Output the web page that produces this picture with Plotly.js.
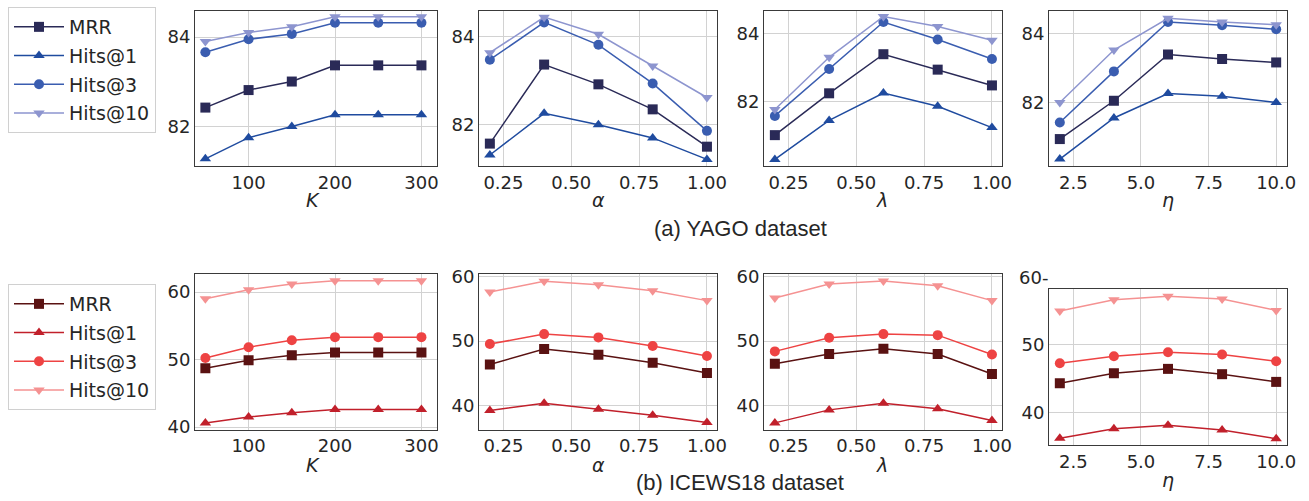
<!DOCTYPE html>
<html><head><meta charset="utf-8">
<script src="https://cdn.plot.ly/plotly-3.0.1.min.js"></script>
<style>body{margin:0;background:#fff}#c{width:1309px;height:501px}</style>
</head><body><div id="c"></div>
<script>
// ---------- data ----------
const seriesNames = ["MRR", "Hits@1", "Hits@3", "Hits@10"];
const K = [50, 100, 150, 200, 250, 300];
const alpha = [0.2, 0.4, 0.6, 0.8, 1.0];
const lambda = [0.2, 0.4, 0.6, 0.8, 1.0];
const eta = [2, 4, 6, 8, 10];

// YAGO
const yagoK_MRR = [82.43, 82.82, 83.01, 83.37, 83.37, 83.37];
const yagoK_H1  = [81.29, 81.76, 82.01, 82.27, 82.27, 82.27];
const yagoK_H3  = [83.66, 83.95, 84.07, 84.32, 84.32, 84.32];
const yagoK_H10 = [83.90, 84.10, 84.23, 84.45, 84.45, 84.45];

const yagoA_MRR = [81.57, 83.37, 82.92, 82.35, 81.50];
const yagoA_H1  = [81.31, 82.26, 82.00, 81.70, 81.21];
const yagoA_H3  = [83.48, 84.33, 83.82, 82.94, 81.86];
const yagoA_H10 = [83.64, 84.45, 84.06, 83.34, 82.62];

const yagoL_MRR = [81.03, 82.25, 83.39, 82.94, 82.48];
const yagoL_H1  = [80.32, 81.46, 82.26, 81.87, 81.25];
const yagoL_H3  = [81.59, 82.96, 84.33, 83.82, 83.25];
const yagoL_H10 = [81.78, 83.30, 84.49, 84.20, 83.80];

const yagoE_MRR = [80.94, 82.05, 83.39, 83.26, 83.16];
const yagoE_H1  = [80.36, 81.55, 82.26, 82.18, 82.00];
const yagoE_H3  = [81.42, 82.90, 84.33, 84.24, 84.12];
const yagoE_H10 = [82.00, 83.52, 84.44, 84.33, 84.25];

// ICEWS18
const iceK_MRR = [48.71, 49.90, 50.65, 51.04, 51.04, 51.04];
const iceK_H1  = [40.60, 41.49, 42.13, 42.63, 42.63, 42.63];
const iceK_H3  = [50.25, 51.84, 52.88, 53.33, 53.33, 53.33];
const iceK_H10 = [59.00, 60.35, 61.19, 61.69, 61.69, 61.69];

const iceA_MRR = [46.40, 48.77, 47.89, 46.66, 45.06];
const iceA_H1  = [39.28, 40.41, 39.49, 38.56, 37.43];
const iceA_H3  = [49.54, 51.08, 50.57, 49.23, 47.69];
const iceA_H10 = [57.58, 59.23, 58.71, 57.79, 56.25];

const iceL_MRR = [46.50, 48.00, 48.82, 48.00, 44.91];
const iceL_H1  = [37.37, 39.38, 40.41, 39.54, 37.73];
const iceL_H3  = [48.41, 50.51, 51.08, 50.92, 47.94];
const iceL_H10 = [56.66, 58.82, 59.28, 58.56, 56.25];

const iceE_MRR = [44.31, 45.78, 46.42, 45.64, 44.51];
const iceE_H1  = [36.23, 37.65, 38.14, 37.45, 36.18];
const iceE_H3  = [47.25, 48.28, 48.87, 48.53, 47.55];
const iceE_H10 = [54.90, 56.57, 57.06, 56.67, 55.00];

const xTitleTexts = ["K", "α", "λ", "η"];
const captions = ["(a) YAGO dataset", "(b) ICEWS18 dataset"];

// ---------- styling ----------
const W = 1309, H = 501;
const blueColors = ["#2a2a57", "#1f4b9f", "#3a5db0", "#8d95cf"];
const redColors  = ["#5a1212", "#c1202b", "#ee4343", "#f59292"];
const symbols = ["square", "triangle-up", "circle", "triangle-down"];
const FONT = "DejaVu Sans, sans-serif";
const TXT = "#262626";

const panels = [
  {x: K, ys: [yagoK_MRR, yagoK_H1, yagoK_H3, yagoK_H10], colors: blueColors, legend: "legend"},
  {x: alpha, ys: [yagoA_MRR, yagoA_H1, yagoA_H3, yagoA_H10], colors: blueColors},
  {x: lambda, ys: [yagoL_MRR, yagoL_H1, yagoL_H3, yagoL_H10], colors: blueColors},
  {x: eta, ys: [yagoE_MRR, yagoE_H1, yagoE_H3, yagoE_H10], colors: blueColors},
  {x: K, ys: [iceK_MRR, iceK_H1, iceK_H3, iceK_H10], colors: redColors, legend: "legend2"},
  {x: alpha, ys: [iceA_MRR, iceA_H1, iceA_H3, iceA_H10], colors: redColors},
  {x: lambda, ys: [iceL_MRR, iceL_H1, iceL_H3, iceL_H10], colors: redColors},
  {x: eta, ys: [iceE_MRR, iceE_H1, iceE_H3, iceE_H10], colors: redColors},
];

const xPix = [[195, 437], [479, 717], [764, 1002], [1049, 1287]];
const yPix = [[11, 166], [11, 166], [11, 166], [11, 166],
              [274, 429.5], [274, 429.5], [274, 429.5], [289, 445]];
const xRanges = [[38, 318], [0.16, 1.037], [0.16, 1.037], [1.6, 10.4]];
const yRanges = [[81.13, 84.58], [81.06, 84.59], [80.13, 84.65], [80.16, 84.65],
                 [39.65, 62.68], [36.35, 60.36], [36.35, 60.36], [35.25, 58.14]];
const xTickVals = [[100, 200, 300], [0.25, 0.5, 0.75, 1.0], [0.25, 0.5, 0.75, 1.0], [2.5, 5, 7.5, 10]];
const xTickDec = [0, 2, 2, 1];
const xTitleX = [313, 598, 882, 1168];
const xTitleY = [200, 200, 200, 200, 465, 465, 465, 480];

const legendCommon = {xanchor: "left", yanchor: "top",
  bordercolor: "#d0d0d0", borderwidth: 1, bgcolor: "#fff",
  font: {family: FONT, size: 19, color: TXT}, tracegroupgap: 1, itemwidth: 50};

const data = [];
const layout = {
  width: W, height: H, margin: {l: 0, r: 0, t: 0, b: 0},
  paper_bgcolor: "#fff", plot_bgcolor: "#fff",
  font: {family: FONT, size: 18, color: TXT},
  showlegend: true,
  legend: Object.assign({x: 8 / W, y: 1 - 7 / H}, legendCommon),
  legend2: Object.assign({x: 8 / W, y: 1 - 284 / H}, legendCommon),
  annotations: [
    {text: captions[0], x: 741 / W, y: 1 - 228 / H, xref: "paper", yref: "paper",
     showarrow: false, xanchor: "center", yanchor: "middle",
     font: {family: "Liberation Sans, Arial, sans-serif", size: 22, color: TXT}},
    {text: captions[1], x: 739.5 / W, y: 1 - 482 / H, xref: "paper", yref: "paper",
     showarrow: false, xanchor: "center", yanchor: "middle",
     font: {family: "Liberation Sans, Arial, sans-serif", size: 22, color: TXT}},
  ],
};

panels.forEach((p, i) => {
  const col = i % 4;
  const ax = i === 0 ? "" : String(i + 1);
  p.ys.forEach((y, s) => {
    data.push({
      type: "scatter", mode: "lines+markers",
      x: p.x, y: y, name: seriesNames[s],
      xaxis: "x" + ax, yaxis: "y" + ax,
      line: {color: p.colors[s], width: 1.5},
      marker: {symbol: symbols[s], color: p.colors[s], size: 10, line: {width: 0}},
      showlegend: !!p.legend,
      legend: p.legend || "legend",
      legendgroup: "g" + i + "_" + s,
    });
  });
  const xd = [xPix[col][0] / W, xPix[col][1] / W];
  const yd = [1 - yPix[i][1] / H, 1 - yPix[i][0] / H];
  const common = {showline: true, mirror: true, linecolor: "#3a3a3a", linewidth: 1,
                  showgrid: true, gridcolor: "#d2d2d2", gridwidth: 1, zeroline: false,
                  ticks: "", tickfont: {family: FONT, size: 18, color: TXT}};
  layout["xaxis" + ax] = Object.assign({}, common, {
    domain: xd, range: xRanges[col], anchor: "y" + ax,
    tickmode: "array", tickvals: xTickVals[col],
    ticktext: xTickVals[col].map(v => v.toFixed(xTickDec[col])),
  });
  const yt = i < 4 ? [82, 84] : [40, 50, 60];
  layout["yaxis" + ax] = Object.assign({}, common, {
    domain: yd, range: yRanges[i], anchor: "x" + ax,
    tickmode: "array", tickvals: yt, ticktext: yt.map(String),
  });
  layout.annotations.push({
    text: "<i>" + xTitleTexts[col] + "</i>", x: xTitleX[col] / W, y: 1 - xTitleY[i] / H,
    xref: "paper", yref: "paper", showarrow: false, xanchor: "center", yanchor: "middle",
    font: {family: FONT, size: 19, color: TXT},
  });
});

// stray "60" tick label above the last ICEWS18 panel, as in the reference
layout.annotations.push({
  text: "60-", x: 1050 / W, y: 1 - 277 / H, xref: "paper", yref: "paper",
  showarrow: false, xanchor: "right", yanchor: "middle",
  font: {family: FONT, size: 18, color: TXT},
});

Plotly.newPlot("c", data, layout, {displayModeBar: false, staticPlot: true});
</script>
</body></html>
